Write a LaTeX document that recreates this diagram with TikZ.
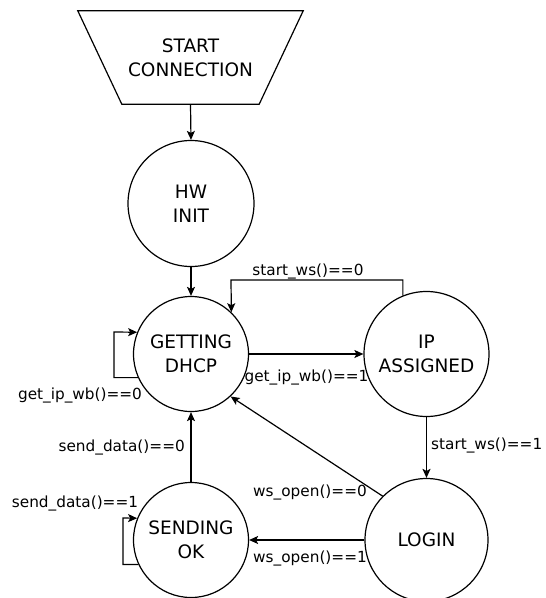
\documentclass[tikz,border=0pt]{standalone}
\usepackage{fontspec}
\setmainfont{DejaVu Sans}
\usetikzlibrary{arrows.meta}
\begin{document}
\begin{tikzpicture}[x=1pt,y=-1pt,
  state/.style={circle,draw,line width=1.2pt,inner sep=0pt,align=center,font=\fontsize{18.5}{24}\selectfont},
  lbl/.style={font=\fontsize{15.3}{18}\selectfont,inner sep=0pt},
  arr/.style={line width=1.2pt,-{Stealth[length=9pt,width=8pt,inset=2pt]}},
  ln/.style={line width=1.2pt}]
\useasboundingbox (0,0) rectangle (546,598);
\clip (0,0) rectangle (546,598);
% start trapezoid
\node[align=center,font=\fontsize{18.5}{24}\selectfont,minimum width=225pt,minimum height=93pt,inner sep=0pt] (start) at (190.5,57.5) {START\\CONNECTION};
\draw[ln] (start.north west) -- (start.north east) -- ([xshift=-44pt]start.south east) -- ([xshift=44pt]start.south west) -- cycle;
% states
\node[state,minimum size=126pt] (hw) at (191,203.5) {HW\\INIT};
\node[state,minimum size=115pt] (dhcp) at (191,354) {GETTING\\DHCP};
\node[state,minimum size=125pt] (ip) at (426.5,354) {IP\\ASSIGNED};
\node[state,minimum size=123pt] (login) at (426.5,540) {LOGIN};
\node[state,minimum size=115pt] (send) at (191,540) {SENDING\\OK};
% connectors
\coordinate (tl) at (231,280);
\coordinate (gl) at (114,332);
\coordinate (sl) at (123,518);
\draw[arr] (start.south) -- (hw.north);
\draw[arr] (hw.south) -- (dhcp.north);
\draw[arr] (dhcp.east) -- (ip.west);
\draw[arr] (ip.112) |- (tl) -- (dhcp.46);
\draw[arr] (dhcp.204) -| (gl) -- (dhcp.158);
\draw[arr] (send.205) -| (sl) -- (send.158);
\draw[arr] (send.north) -- (dhcp.south);
\draw[arr] (ip.south) -- (login.north);
\draw[arr] (login.135) -- (dhcp.313);
\draw[arr] (login.west) -- (send.east);
% labels
\node[lbl] (l1) at (308,271) {start\_ws()==0};
\node[lbl] (l2) at (306.5,377.5) {get\_ip\_wb()==1};
\node[lbl] (l3) at (80,395) {get\_ip\_wb()==0};
\node[lbl,anchor=east] (l4) at (185,447) {send\_data()==0};
\node[lbl] (l5) at (75,503) {send\_data()==1};
\node[lbl,anchor=west] (l6) at (431,445) {start\_ws()==1};
\node[lbl] (l7) at (310,492) {ws\_open()==0};
\node[lbl] (l8) at (310,558) {ws\_open()==1};
\end{tikzpicture}
\end{document}
